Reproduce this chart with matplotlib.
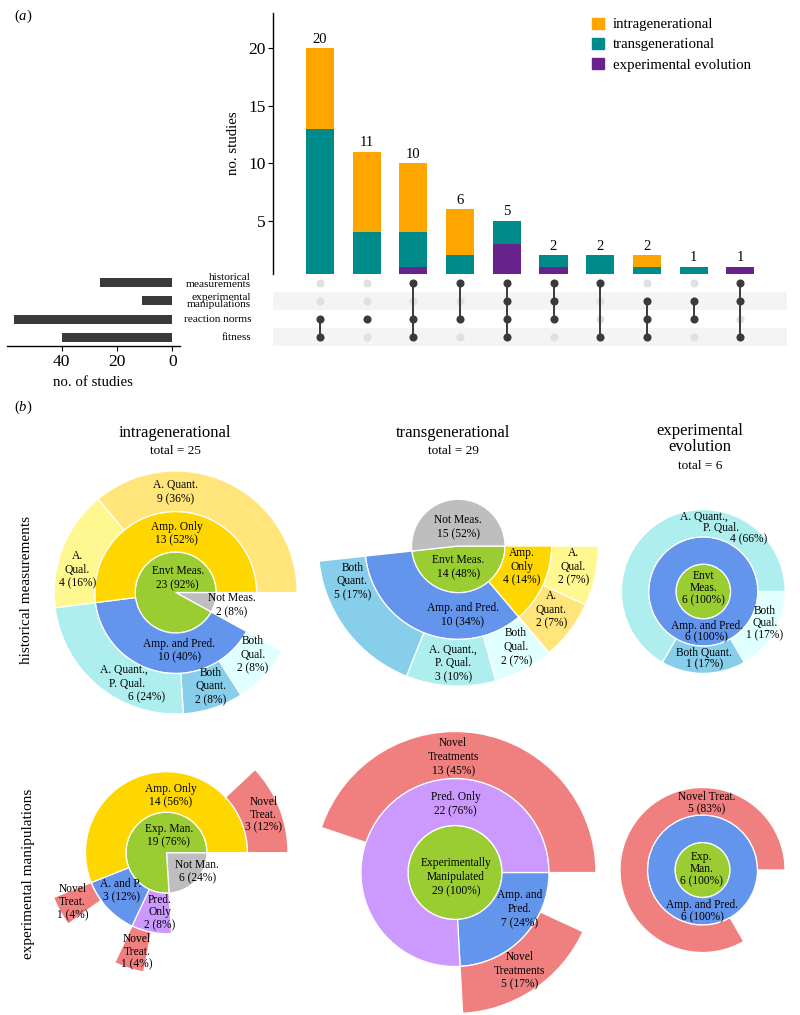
import numpy as np
import matplotlib
matplotlib.use('Agg')
import matplotlib.pyplot as plt
from matplotlib.patches import Wedge, Patch
from matplotlib.transforms import blended_transform_factory

plt.rcParams['font.family'] = ['Liberation Serif', 'DejaVu Serif']
plt.rcParams['mathtext.fontset'] = 'custom'
plt.rcParams['mathtext.rm'] = 'Liberation Serif'
plt.rcParams['mathtext.it'] = 'Liberation Serif:italic'

# ======================= DATA: panel (a) =======================
set_names = ['historical\nmeasurements', 'experimental\nmanipulations',
             'reaction norms', 'fitness']
# membership per intersection column: [historical, experimental, reaction norms, fitness]
membership = [
    [0, 0, 1, 1],
    [0, 0, 1, 0],
    [1, 0, 1, 1],
    [1, 0, 1, 0],
    [1, 1, 1, 1],
    [1, 1, 1, 0],
    [1, 0, 0, 1],
    [0, 1, 1, 1],
    [0, 1, 1, 0],
    [1, 1, 0, 1],
]
intra_counts = [7, 7, 6, 4, 0, 0, 0, 1, 0, 0]
trans_counts = [13, 4, 3, 2, 2, 1, 2, 1, 1, 0]
evo_counts = [0, 0, 1, 0, 3, 1, 0, 0, 0, 1]
series_names = ['intragenerational', 'transgenerational', 'experimental evolution']
bar_ticks = [5, 10, 15, 20]
set_ticks = [0, 20, 40]

# ======================= DATA: panel (b) =======================
col_titles = ['intragenerational', 'transgenerational', 'experimental\nevolution']
col_totals = [25, 29, 6]
row_titles = ['historical measurements', 'experimental manipulations']

# rings listed clockwise from 3 o'clock; None = unlabeled (empty) part
ih_labels = [['Not Meas.', 'Envt Meas.'],
             [None, 'Amp. and Pred.', 'Amp. Only'],
             [None, 'Both\nQual.', 'Both\nQuant.', 'A. Quant.,\nP. Qual.', 'A.\nQual.', 'A. Quant.']]
ih_counts = [[2, 23], [2, 10, 13], [2, 2, 2, 6, 4, 9]]
ih_pcts = [[8, 92], [None, 40, 52], [None, 8, 8, 24, 16, 36]]

th_labels = [['Envt Meas.', 'Not Meas.'],
             ['Amp.\nOnly', 'Amp. and Pred.', None],
             ['A.\nQual.', 'A.\nQuant.', 'Both\nQual.', 'A. Quant.,\nP. Qual.', 'Both\nQuant.', None]]
th_counts = [[14, 15], [4, 10, 15], [2, 2, 2, 3, 5, 15]]
th_pcts = [[48, 52], [14, 34, None], [7, 7, 7, 10, 17, None]]

eh_labels = [['Envt\nMeas.'],
             ['Amp. and Pred.'],
             ['Both\nQual.', 'Both Quant.', 'A. Quant.,\nP. Qual.']]
eh_counts = [[6], [6], [1, 1, 4]]
eh_pcts = [[100], [100], [17, 17, 66]]

ie_labels = [['Not Man.', 'Exp. Man.'],
             [None, 'Pred.\nOnly', 'A. and P.', 'Amp. Only'],
             [None, None, 'Novel\nTreat.', None, 'Novel\nTreat.', None, 'Novel\nTreat.']]
ie_counts = [[6, 19], [6, 2, 3, 14], [6, 1, 1, 2, 1, 11, 3]]
ie_pcts = [[24, 76], [None, 8, 12, 56], [None, None, 4, None, 4, None, 12]]

te_labels = [['Experimentally\nManipulated'],
             ['Amp. and\nPred.', 'Pred. Only'],
             [None, 'Novel\nTreatments', None, 'Novel\nTreatments']]
te_counts = [[29], [7, 22], [2, 5, 9, 13]]
te_pcts = [[100], [24, 76], [None, 17, None, 45]]

ee_labels = [['Exp.\nMan.'],
             ['Amp. and Pred.'],
             [None, 'Novel Treat.']]
ee_counts = [[6], [6], [1, 5]]
ee_pcts = [[100], [100], [None, 83]]

# ======================= STYLE / LAYOUT =======================
W, H = 800, 1015
c_intra, c_trans, c_evo = '#FFA500', '#008B8B', '#68228B'
dark, light, band = '#3A3A3A', '#E0E0E0', '#F4F4F4'

palette = {
    'Envt Meas.': '#9ACD32', 'Exp. Man.': '#9ACD32', 'Experimentally Manipulated': '#9ACD32',
    'Not Meas.': '#BEBEBE', 'Not Man.': '#BEBEBE',
    'Amp. Only': '#FFD700',
    'Amp. and Pred.': '#6495ED', 'A. and P.': '#6495ED',
    'Pred. Only': '#CC99FF',
    'A. Quant.': '#FFE57A', 'A. Qual.': '#FFF78F',
    'A. Quant., P. Qual.': '#AFEEEE',
    'Both Quant.': '#87CEEB', 'Both Qual.': '#E0FFFF',
    'Novel Treat.': '#F08080', 'Novel Treatments': '#F08080',
}

# label positions (ring units, relative to centre), in drawing order
ih_pos = [(1.38, -0.31), (0.05, 0.35), (0.09, -1.44), (0.03, 1.45),
          (1.90, -1.54), (0.86, -2.32), (-1.06, -2.25), (-2.43, 0.56), (0.0, 2.48)]
th_pos = [(0.0, -0.45), (0.0, 0.41), (1.36, -0.44), (0.09, -1.48),
          (2.46, -0.44), (1.99, -1.36), (1.24, -2.16), (-0.11, -2.51), (-2.27, -0.76)]
eh_pos = [(0.01, 0.12), (0.12, -1.47), (2.26, -1.16), (0.04, -2.46), (0.77, 2.31)]
ie_pos = [(0.76, -0.47), (0.06, 0.42), (-0.16, -1.47), (-1.12, -0.94), (0.10, 1.41),
          (-0.73, -2.44), (-2.32, -1.22), (2.39, 0.93)]
te_pos = [(0.02, -0.10), (1.37, -0.78), (0.01, 1.45), (1.37, -2.09), (-0.04, 2.45)]
ee_pos = [(-0.04, 0.04), (-0.02, -1.49), (0.15, 2.43)]
# per-line horizontal shifts (px) for staggered labels: {label index: shifts}
ih_stagger = {6: [-8.7, -5.4, 14.1]}
eh_stagger = {4: [-20.3, -3.6, 24.0]}
set_label_dy = [-0.11, -0.01, 0.0, 0.0]

fig = plt.figure(figsize=(W / 100, H / 100), dpi=100)


def px_axes(x0, y0, x1, y1):
    return fig.add_axes([x0 / W, 1 - y1 / H, (x1 - x0) / W, (y1 - y0) / H])


def ftext(x, y, s, **kw):
    fig.text(x / W, 1 - y / H, s, **kw)


# ======================= PANEL (a) =======================
mem = np.array(membership)
n_int = len(membership)
xs = np.arange(1, n_int + 1)
totals = np.array(intra_counts) + np.array(trans_counts) + np.array(evo_counts)
set_sizes = mem.T @ totals

ax_bar = px_axes(273.3, 12.7, 787, 273.6)
bottom = np.zeros(n_int)
for vals, col in [(evo_counts, c_evo), (trans_counts, c_trans), (intra_counts, c_intra)]:
    ax_bar.bar(xs, vals, width=0.6, bottom=bottom, color=col, linewidth=0)
    bottom += np.array(vals)
for x, t in zip(xs, totals):
    ax_bar.text(x, t + 0.8, str(t), ha='center', va='center', fontsize=10.5)
ax_bar.set_xlim(0, n_int + 1)
ax_bar.set_ylim(0.41, 23.1)
for s in ['top', 'right', 'bottom']:
    ax_bar.spines[s].set_visible(False)
ax_bar.spines['left'].set_linewidth(1.0)
ax_bar.set_xticks([])
ax_bar.set_yticks(bar_ticks)
ax_bar.tick_params(axis='y', labelsize=12.5, length=3.5, width=0.8, pad=2)
ax_bar.set_ylabel('no. studies', fontsize=10.7, labelpad=6)
ax_bar.patch.set_alpha(0)

handles = [Patch(color=c) for c in (c_intra, c_trans, c_evo)]
fig.legend(handles, series_names, loc='upper left',
           bbox_to_anchor=(592 / W, 1 - 17.5 / H), frameon=False, fontsize=10.7,
           handlelength=0.8, handleheight=0.8, handletextpad=0.6,
           labelspacing=0.42, borderpad=0, borderaxespad=0)

ax_m = px_axes(273.3, 273.6, 787, 346.4)
ax_m.set_xlim(0, n_int + 1)
ax_m.set_ylim(len(set_names) - 0.5, -0.5)
for i in range(len(set_names)):
    if i % 2 == 1:
        ax_m.axhspan(i - 0.5, i + 0.5, color=band, lw=0, zorder=0)
rows = np.arange(len(set_names))
for j in range(n_int):
    filled = rows[mem[j] == 1]
    empty = rows[mem[j] == 0]
    ax_m.scatter(np.full(len(empty), xs[j]), empty, s=34, color=light, lw=0, zorder=1)
    ax_m.plot([xs[j], xs[j]], [filled.min(), filled.max()], color=dark, lw=1.4, zorder=2)
    ax_m.scatter(np.full(len(filled), xs[j]), filled, s=34, color=dark, lw=0, zorder=3)
ax_m.axis('off')
tr = blended_transform_factory(ax_m.transAxes, ax_m.transData)
for i, name in enumerate(set_names):
    ax_m.text(-0.0434, i + set_label_dy[i], name, transform=tr,
              ha='right', va='center', fontsize=8.2, linespacing=0.68)

ax_s = px_axes(6.7, 273.6, 180, 346.4)
ax_s.barh(rows, set_sizes, height=0.5, color=dark)
ax_s.set_xlim(59.8, -2.8)
ax_s.set_ylim(len(set_names) - 0.5, -0.5)
for s in ['top', 'right', 'left']:
    ax_s.spines[s].set_visible(False)
ax_s.spines['bottom'].set_linewidth(1.0)
ax_s.set_yticks([])
ax_s.set_xticks(set_ticks)
ax_s.tick_params(axis='x', labelsize=12.5, length=3.5, width=0.8, pad=2)
ax_s.set_xlabel('no. of studies', fontsize=10.7, labelpad=4)
ax_s.patch.set_alpha(0)

ftext(14, 16, r'($\mathit{a}$)', fontsize=10.5, va='center', ha='left')

# ======================= PANEL (b) =======================
ftext(14, 407, r'($\mathit{b}$)', fontsize=10.5, va='center', ha='left')

title_x = [175, 453, 700]
for x, t, tot in zip(title_x, col_titles, col_totals):
    if '\n' in t:
        ftext(x, 439, t, fontsize=12, ha='center', va='center', linespacing=1.05)
        ftext(x, 466, f'total = {tot}', fontsize=9.5, ha='center', va='center')
    else:
        ftext(x, 433, t, fontsize=12, ha='center', va='center')
        ftext(x, 451, f'total = {tot}', fontsize=9.5, ha='center', va='center')

ftext(27, 590, row_titles[0], fontsize=11, rotation=90, ha='center', va='center')
ftext(29, 874, row_titles[1], fontsize=11, rotation=90, ha='center', va='center')

FS = 8.3


def sunburst(cx, cy, unit, labels, counts, pcts, pos, ls, stagger=None):
    S = 150
    ax = px_axes(cx - S, cy - S, cx + S, cy + S)
    ax.set_xlim(-S / unit, S / unit)
    ax.set_ylim(-S / unit, S / unit)
    ax.axis('off')
    ax.patch.set_alpha(0)
    total = sum(counts[0])
    texts = []
    for ring, (labs, cnts, pc) in enumerate(zip(labels, counts, pcts)):
        cum = 0
        for lab, c, p in zip(labs, cnts, pc):
            a_start = -cum / total * 360
            a_end = -(cum + c) / total * 360
            cum += c
            if lab is None:
                continue
            key = lab.replace('\n', ' ')
            w = Wedge((0, 0), ring + 1, a_end, a_start,
                      width=None if ring == 0 else 1,
                      facecolor=palette[key], edgecolor='white', lw=0.9)
            ax.add_patch(w)
            texts.append(f'{lab}\n{c} ({p}%)')
    step = FS * ls * 100 / 72 / unit
    for k, (txt, (dx, dy)) in enumerate(zip(texts, pos)):
        if stagger and k in stagger:
            lines = txt.split('\n')
            n = len(lines)
            for i, (line, sh) in enumerate(zip(lines, stagger[k])):
                ax.text(dx + sh / unit, dy + ((n - 1) / 2 - i) * step, line,
                        ha='center', va='center', fontsize=FS)
        else:
            ax.text(dx, dy, txt, ha='center', va='center', fontsize=FS,
                    linespacing=ls, multialignment='center')


sunburst(175.7, 592.5, 40.5, ih_labels, ih_counts, ih_pcts, ih_pos, 1.2, ih_stagger)
sunburst(458.3, 546.0, 46.7, th_labels, th_counts, th_pcts, th_pos, 1.22)
sunburst(703.3, 591.5, 27.3, eh_labels, eh_counts, eh_pcts, eh_pos, 0.98, eh_stagger)
sunburst(166.5, 852.7, 40.5, ie_labels, ie_counts, ie_pcts, ie_pos, 1.08)
sunburst(455.0, 872.5, 47.0, te_labels, te_counts, te_pcts, te_pos, 1.22)
sunburst(702.5, 870.0, 27.5, ee_labels, ee_counts, ee_pcts, ee_pos, 1.0)

fig.savefig('out.png', dpi=100)
